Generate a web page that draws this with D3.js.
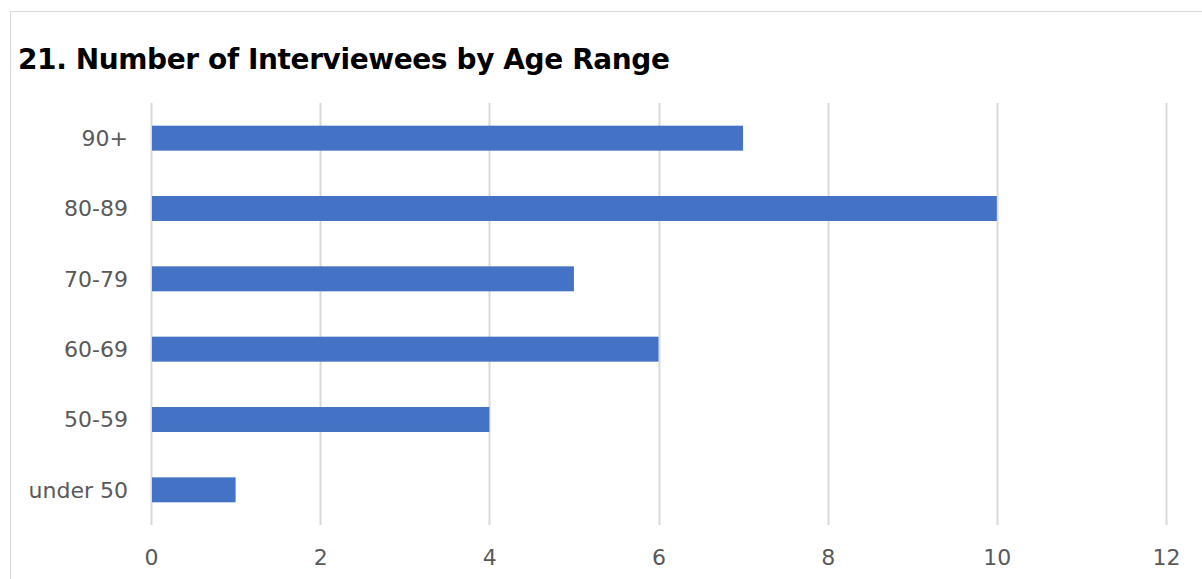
<!DOCTYPE html>
<html>
<head>
<meta charset="utf-8">
<script src="https://cdn.jsdelivr.net/npm/d3@7"></script>
<style>
  html, body { margin: 0; padding: 0; background: #fff; }
  svg { display: block; }
</style>
</head>
<body>
<svg id="chart" width="1202" height="579"></svg>
<script>
const categories = ["90+", "80-89", "70-79", "60-69", "50-59", "under 50"];
const values = [7, 10, 5, 6, 4, 1];
const xTicks = [0, 2, 4, 6, 8, 10, 12];
const title = "21. Number of Interviewees by Age Range";

(function () {
const svg = d3.select("#chart");
const fontFamily = "'DejaVu Sans', sans-serif";

// chart border
svg.append("rect")
  .attr("x", 10.5).attr("y", 11.5)
  .attr("width", 1202).attr("height", 600)
  .attr("fill", "#fff").attr("stroke", "#d9d9d9").attr("stroke-width", 1);

const pLeft = 151, pRight = 1166, pTop = 103, pBottom = 525;

const x = d3.scaleLinear().domain([0, 12]).range([pLeft, pRight]);
const y = d3.scaleBand().domain(categories).range([pTop, pBottom])
  .paddingInner(0.645).paddingOuter(0.3225);

// gridlines
svg.append("g").selectAll("line").data(xTicks).join("line")
  .attr("x1", d => Math.round(x(d)) + 0.5).attr("x2", d => Math.round(x(d)) + 0.5)
  .attr("y1", pTop).attr("y2", pBottom)
  .attr("stroke", "#d9d9d9").attr("stroke-width", 2);

// bars
svg.append("g").selectAll("rect").data(values).join("rect")
  .attr("x", x(0) + 1)
  .attr("y", (d, i) => y(categories[i]))
  .attr("width", d => x(d) - x(0) - 1)
  .attr("height", y.bandwidth())
  .attr("fill", "#4472c4");

// x axis labels
const xAxis = d3.axisBottom(x).tickValues(xTicks).tickSize(0).tickPadding(0);
const gx = svg.append("g").attr("transform", "translate(0, 565)").call(xAxis);
gx.select(".domain").remove();
gx.selectAll("text")
  .attr("dy", 0)
  .attr("font-family", fontFamily).attr("font-size", 22)
  .attr("fill", "#595959");

// y axis labels
const yAxis = d3.axisLeft(y).tickSize(0).tickPadding(0);
const gy = svg.append("g").attr("transform", "translate(128, 0)").call(yAxis);
gy.select(".domain").remove();
gy.selectAll("text")
  .attr("dy", "0.36em")
  .attr("font-family", fontFamily).attr("font-size", 22)
  .attr("fill", "#595959");

// title
svg.append("text")
  .attr("x", 18).attr("y", 69)
  .attr("font-family", fontFamily).attr("font-weight", "bold")
  .attr("font-size", 28).attr("letter-spacing", -0.4).attr("fill", "#000")
  .text(title);
})();
</script>
</body>
</html>
